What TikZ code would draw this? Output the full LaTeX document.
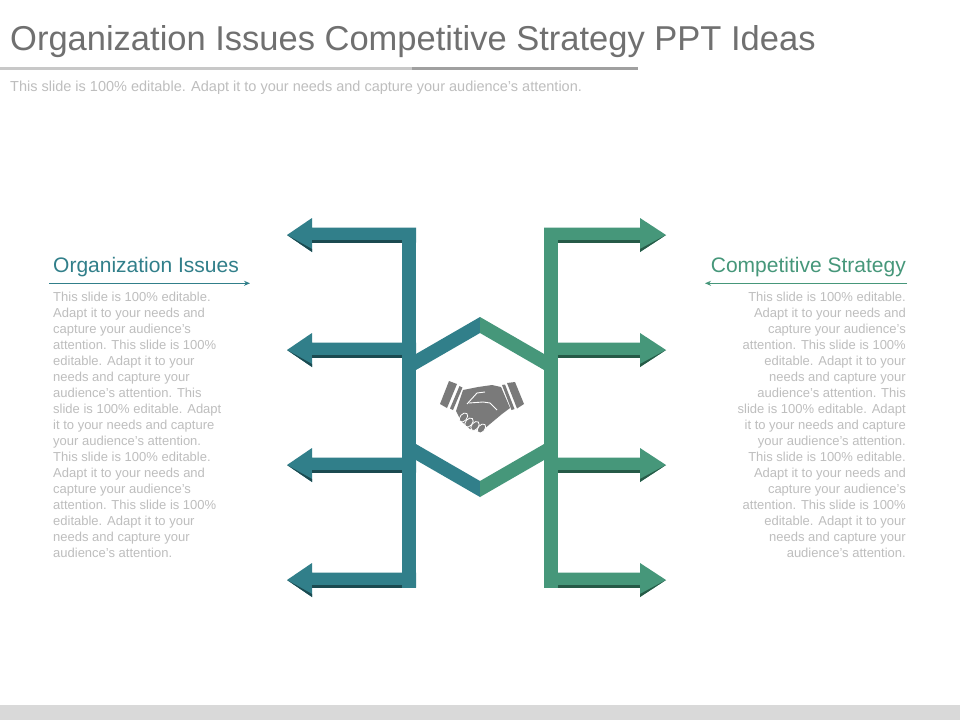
\documentclass[tikz,border=0pt]{standalone}
\usepackage{fontspec}
\setmainfont{Liberation Sans}
\usetikzlibrary{arrows.meta}
\definecolor{orgteal}{RGB}{49,127,138}
\definecolor{orgtealdark}{RGB}{27,74,80}
\definecolor{stratgreen}{RGB}{70,151,122}
\definecolor{stratgreendark}{RGB}{38,90,71}
\definecolor{titlegray}{RGB}{112,112,112}
\definecolor{rulelight}{RGB}{200,200,200}
\definecolor{ruledark}{RGB}{160,160,160}
\definecolor{bodygray}{RGB}{190,190,190}
\definecolor{icongray}{RGB}{122,122,122}
\definecolor{stripgray}{RGB}{217,217,217}
\newcommand{\bodytext}{This slide is 100\% editable.\\ Adapt it to your needs and\\ capture your audience's\\ attention. This slide is 100\%\\ editable. Adapt it to your\\ needs and capture your\\ audience's attention. This\\ slide is 100\% editable. Adapt\\ it to your needs and capture\\ your audience's attention.\\ This slide is 100\% editable.\\ Adapt it to your needs and\\ capture your audience's\\ attention. This slide is 100\%\\ editable. Adapt it to your\\ needs and capture your\\ audience's attention.}

\begin{document}
\begin{tikzpicture}[x=1pt,y=-1pt,
		headfont/.style={font=\fontsize{21}{25}\selectfont, inner sep=0pt},
		bodyfont/.style={font=\fontsize{13}{16}\selectfont, text=bodygray, inner sep=0pt}
	]
	\fill[white] (0,0) rectangle (960,720);
	\path[use as bounding box] (0,0) rectangle (960,720);

	% title and rule
	\node[anchor=base west, inner sep=0pt, text=titlegray,
		  font=\fontsize{34.5}{40}\selectfont] (title) at (10,50)
		  {Organization Issues Competitive Strategy PPT Ideas};
	\fill[rulelight] (0,66.5) rectangle (412,70);
	\fill[ruledark] (412,66.5) rectangle (638,70);
	\node[anchor=base west, inner sep=0pt, text=bodygray,
		  font=\fontsize{14.5}{17}\selectfont] (subtitle) at (10,91)
		  {This slide is 100\% editable. Adapt it to your needs and capture your audience's attention.};

	% left arrows
	\foreach \y in {235,350,465,580} {
		\fill[orgteal] (416,\y-7.5) -- (312,\y-7.5) -- (312,\y-17) -- (287,\y)
			-- (312,\y+17) -- (312,\y+7.5) -- (416,\y+7.5) -- cycle;
		\fill[orgtealdark] (312,\y+4.5) rectangle (402,\y+7.5);
		\fill[orgtealdark] (287,\y) -- (312,\y+17) -- (312,\y+14) -- cycle;
	}
	\fill[orgteal] (402,227.5) rectangle (416,587.5);

	% right arrows
	\foreach \y in {235,350,465,580} {
		\fill[stratgreen] (544,\y-7.5) -- (640,\y-7.5) -- (640,\y-17) -- (666,\y)
			-- (640,\y+17) -- (640,\y+7.5) -- (544,\y+7.5) -- cycle;
		\fill[stratgreendark] (558,\y+4.5) rectangle (640,\y+7.5);
		\fill[stratgreendark] (666,\y) -- (640,\y+17) -- (640,\y+14) -- cycle;
	}
	\fill[stratgreen] (544,227.5) rectangle (558,587.5);

	% hexagon
	\begin{scope}
		\clip (390,300) rectangle (480,510);
		\fill[orgteal, even odd rule]
			(480,317) -- (402.06,362) -- (402.06,452) -- (480,497) -- (557.94,452) -- (557.94,362) -- cycle
			(480,333) -- (415.91,370) -- (415.91,444) -- (480,481) -- (544.09,444) -- (544.09,370) -- cycle;
	\end{scope}
	\begin{scope}
		\clip (480,300) rectangle (570,510);
		\fill[stratgreen, even odd rule]
			(480,317) -- (402.06,362) -- (402.06,452) -- (480,497) -- (557.94,452) -- (557.94,362) -- cycle
			(480,333) -- (415.91,370) -- (415.91,444) -- (480,481) -- (544.09,444) -- (544.09,370) -- cycle;
	\end{scope}

	% handshake
	\fill[icongray] (449,381) -- (457,384) -- (447,408) -- (440,404) -- cycle;
	\fill[icongray] (459.5,386) -- (462.5,387.5) -- (453,410) -- (450,408.5) -- cycle;
	\fill[icongray] (507,383) -- (515,382) -- (524,404) -- (517,408.5) -- cycle;
	\fill[icongray] (502,385) -- (505,384.5) -- (514.5,409) -- (511.5,410) -- cycle;
	\fill[icongray] (463,390) -- (478,387) -- (492,385) -- (501,387) -- (510,408)
		-- (502,414) -- (490,424) -- (483,430) -- (470,429) -- (461,421) -- (456,411) -- cycle;
	\foreach \fx/\fy in {463.5/417.5,469/422.5,475/426,481.5/428.5}
		\filldraw[fill=icongray, draw=white, line width=0.8pt, rotate around={-40:(\fx,\fy)}]
			(\fx,\fy) ellipse (3.4 and 5.2);
	\draw[white, line width=0.9pt] (467,404) -- (477,393) -- (485,392);
	\draw[white, line width=0.9pt] (469,403) -- (483,402) -- (490,403) -- (497,410);

	% left text
	\node[headfont, text=orgteal, anchor=base west] (orgtitle) at (53,272.5) {Organization Issues};
	\coordinate (orgstart) at (49,283.3);
	\coordinate (orgend) at (250,283.3);
	\draw[orgteal, line width=0.9pt, -{Stealth[length=6pt,width=5pt]}] (orgstart) -- (orgend);
	\node[bodyfont, align=left, anchor=north west] (orgbody) at (53,291.5) {\bodytext};

	% right text
	\node[headfont, text=stratgreen, anchor=base east] (strattitle) at (906,272.5) {Competitive Strategy};
	\coordinate (stratstart) at (907,283.3);
	\coordinate (stratend) at (705,283.3);
	\draw[stratgreen, line width=0.9pt, -{Stealth[length=6pt,width=5pt]}] (stratstart) -- (stratend);
	\node[bodyfont, align=right, anchor=north east] (stratbody) at (906,291.5) {\bodytext};

	% bottom strip
	\fill[stripgray] (0,705) rectangle (960,720);
\end{tikzpicture}
\end{document}
